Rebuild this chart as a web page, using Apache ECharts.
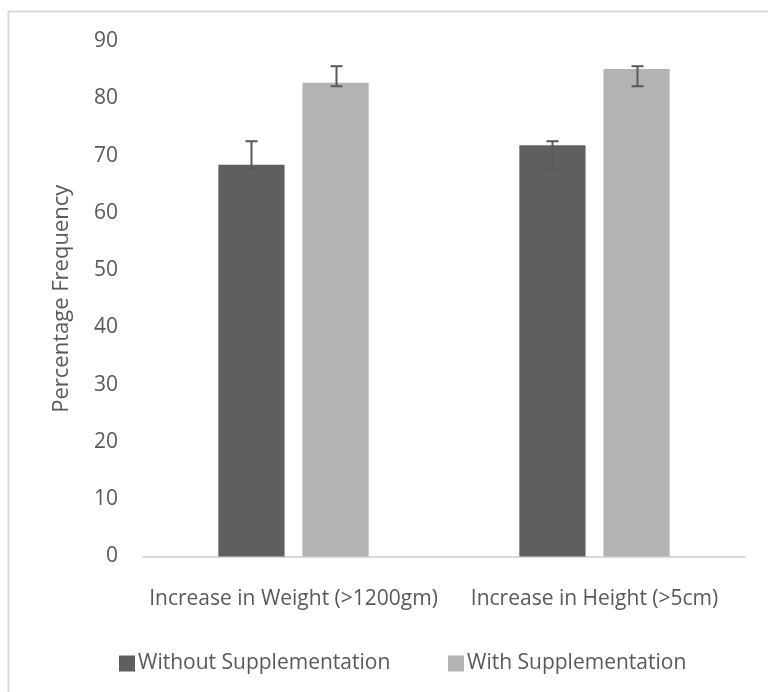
<!DOCTYPE html>
<html><head><meta charset="utf-8">
<script src="https://cdn.jsdelivr.net/npm/echarts@6/dist/echarts.min.js"></script>
<style>html,body{margin:0;padding:0;background:#fff}#c{width:768px;height:692px}</style>
</head><body><div id="c"></div>
<script>
var categories = ['Increase in Weight (>1200gm)', 'Increase in Height (>5cm)'];
var seriesNames = ['Without Supplementation', 'With Supplementation'];
var withoutVals = [68.4, 71.8];
var withVals = [82.7, 85.1];
var withoutErrLow = [67.7, 67.7];
var withoutErrHigh = [72.5, 72.5];
var withErrLow = [82.1, 82.1];
var withErrHigh = [85.6, 85.6];
var yTicks = [0, 10, 20, 30, 40, 50, 60, 70, 80, 90];

var FONT = 'Open Sans';
var TXT = '#595959';
var FS = 21;
var BAR_W = 0.22, GAP = 0.27;

function errSeries(low, high, sign) {
  var data = low.map(function (l, i) { return [i, l, high[i]]; });
  return {
    type: 'custom', z: 10, silent: true,
    data: data,
    encode: { x: 0, y: [1, 2] },
    renderItem: function (params, api) {
      var band = api.size([1, 0])[0];
      var bw = band * BAR_W, gap = bw * GAP;
      var off = sign * (bw + gap) / 2;
      var p1 = api.coord([api.value(0), api.value(1)]);
      var p2 = api.coord([api.value(0), api.value(2)]);
      var x = Math.round(p1[0] + off) + 0.5;
      var cw = 6;
      var st = { stroke: '#595959', lineWidth: 2 };
      return { type: 'group', children: [
        { type: 'line', shape: { x1: x, y1: p1[1], x2: x, y2: p2[1] }, style: st },
        { type: 'line', shape: { x1: x - cw, y1: p1[1], x2: x + cw, y2: p1[1] }, style: st },
        { type: 'line', shape: { x1: x - cw, y1: p2[1], x2: x + cw, y2: p2[1] }, style: st }
      ]};
    }
  };
}

var chart = echarts.init(document.getElementById('c'), null, { renderer: 'canvas' });
chart.setOption({
  animation: false,
  backgroundColor: '#fff',
  textStyle: { fontFamily: FONT },
  graphic: [{ type: 'rect', shape: { x: 8.5, y: 11.5, width: 790, height: 720 },
    style: { fill: 'none', stroke: '#d9d9d9', lineWidth: 2 }, silent: true }],
  grid: { left: 143, right: 23, top: 41, bottom: 135.5 },
  legend: [
    { data: [seriesNames[0]], left: 114, top: 648, itemWidth: 16, itemHeight: 16, itemGap: 4,
      icon: 'rect', textStyle: { color: TXT, fontSize: FS, fontFamily: FONT, padding: [0, 0, 0, -2] } },
    { data: [seriesNames[1]], left: 443, top: 648, itemWidth: 16, itemHeight: 16,
      icon: 'rect', textStyle: { color: TXT, fontSize: FS, fontFamily: FONT, padding: [0, 0, 0, -2] } }
  ],
  xAxis: {
    type: 'category', data: categories,
    axisLine: { lineStyle: { color: '#d9d9d9', width: 2 } },
    axisTick: { show: false },
    axisLabel: { color: TXT, fontSize: FS, fontFamily: FONT, margin: 32, interval: 0 }
  },
  yAxis: {
    type: 'value', min: yTicks[0], max: yTicks[yTicks.length - 1], interval: 10,
    name: 'Percentage Frequency', nameLocation: 'middle', nameGap: 70,
    nameTextStyle: { color: TXT, fontSize: 22, fontFamily: FONT },
    axisLine: { show: false }, axisTick: { show: false },
    splitLine: { show: false },
    axisLabel: { color: TXT, fontSize: FS, fontFamily: FONT, margin: 25 }
  },
  series: [
    { name: seriesNames[0], type: 'bar', data: withoutVals, barWidth: (BAR_W * 100) + '%',
      barGap: (GAP * 100) + '%', itemStyle: { color: '#5f5f5f' } },
    { name: seriesNames[1], type: 'bar', data: withVals, barWidth: (BAR_W * 100) + '%',
      itemStyle: { color: '#b3b3b3' } },
    errSeries(withoutErrLow, withoutErrHigh, -1),
    errSeries(withErrLow, withErrHigh, 1)
  ]
});
</script></body></html>
